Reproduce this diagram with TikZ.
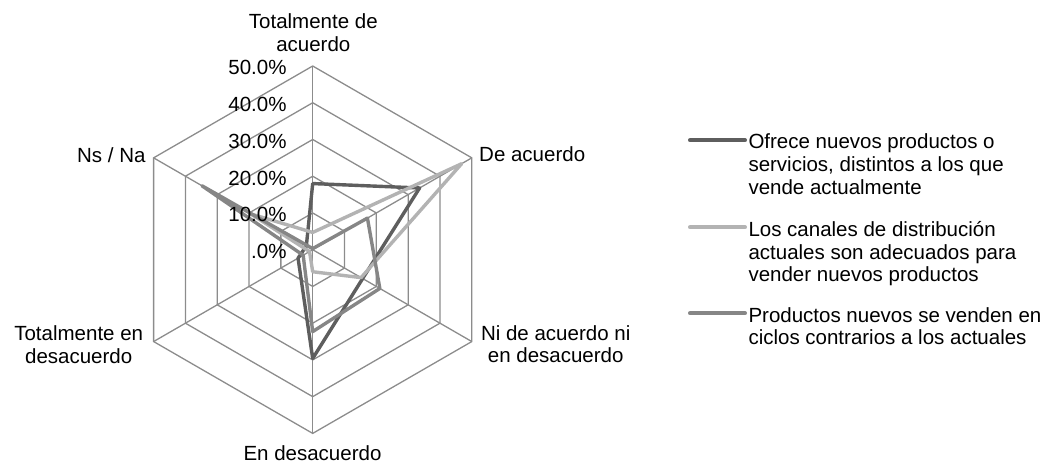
\documentclass[tikz,border=0pt]{standalone}
\usepackage{fontspec}
\setmainfont{Liberation Sans}
\definecolor{gridc}{HTML}{8C8C8C}
\definecolor{sdark}{HTML}{5E5E5E}
\definecolor{slight}{HTML}{B3B3B3}
\definecolor{smed}{HTML}{868686}
\tikzset{
  gridline/.style={gridc, line width=1.3pt},
  series/.style={line width=3.4pt, line join=round},
  lbl/.style={font=\fontsize{20.5}{22.6}\selectfont, inner sep=0pt},
  legline/.style={line width=4pt, line cap=round},
}
\newcommand{\rscl}{3.674}
\begin{document}
\begin{tikzpicture}[x=1pt,y=-1pt]
\useasboundingbox (0,0) rectangle (1058,463);
\begin{scope}[shift={(312.7,249.7)}, yscale=-1]
  \coordinate (O) at (0,0);
  \foreach \k/\a in {1/90,2/30,3/-30,4/-90,5/-150,6/150}{
    \coordinate (A\k) at (\a:183.7);
  }
  \foreach \r in {36.74,73.48,110.22,146.96,183.7}{
    \draw[gridline] (90:\r)--(30:\r)--(-30:\r)--(-90:\r)--(-150:\r)--(150:\r)--cycle;
  }
  \foreach \k in {1,...,6}{ \draw[gridline] (O)--(A\k); }
  % series 1 (dark)
  \foreach \k/\a/\v in {1/90/18,2/30/33.6,3/-30/15.7,4/-90/29.6,5/-150/4.6,6/150/2.0}{
    \coordinate (D\k) at (\a:{\v*\rscl});
  }
  \draw[series, sdark] (D1)--(D2)--(D3)--(D4)--(D5)--(D6)--cycle;
  % series 2 (light)
  \foreach \k/\a/\v in {1/90/4.7,2/30/46.8,3/-30/15.2,4/-90/6.0,5/-150/1.0,6/150/19.5}{
    \coordinate (L\k) at (\a:{\v*\rscl});
  }
  \draw[series, slight] (L1)--(L2)--(L3)--(L4)--(L5)--(L6)--cycle;
  % series 3 (medium)
  \foreach \k/\a/\v in {1/90/0.3,2/30/17.2,3/-30/21.1,4/-90/22.3,5/-150/3.0,6/150/34.8}{
    \coordinate (M\k) at (\a:{\v*\rscl});
  }
  \draw[series, smed] (M1)--(M2)--(M3)--(M4)--(M5)--(M6)--cycle;
\end{scope}
% value labels
\foreach \k/\t in {0/.0\%,1/10.0\%,2/20.0\%,3/30.0\%,4/40.0\%,5/50.0\%}{
  \node[lbl, anchor=base east] (val\k) at (286.7,{249.7-\k*36.74+8.8}) {\t};
}
% category labels
\node[lbl, anchor=base] (c1a) at (313.3,28.3) {Totalmente de};
\node[lbl, anchor=base] (c1b) at (313.3,51.0) {acuerdo};
\node[lbl, anchor=base west] (c2) at (479,161.7) {De acuerdo};
\node[lbl, anchor=base] (c3a) at (555.7,340) {Ni de acuerdo ni};
\node[lbl, anchor=base] (c3b) at (555.7,362.7) {en desacuerdo};
\node[lbl, anchor=base] (c4) at (312.5,460.2) {En desacuerdo};
\node[lbl, anchor=base] (c5a) at (78.7,340) {Totalmente en};
\node[lbl, anchor=base] (c5b) at (78.7,363) {desacuerdo};
\node[lbl, anchor=base east] (c6) at (145.7,162.3) {Ns / Na};
% legend
\coordinate (k1a) at (690,140.3); \coordinate (k1b) at (745,140.3);
\coordinate (k2a) at (690,227.3); \coordinate (k2b) at (745,227.3);
\coordinate (k3a) at (690,313.3); \coordinate (k3b) at (745,313.3);
\draw[legline, sdark] (k1a)--(k1b);
\draw[legline, slight] (k2a)--(k2b);
\draw[legline, smed] (k3a)--(k3b);
\node[lbl, anchor=base west] (t1a) at (748.3,148.6) {Ofrece nuevos productos o};
\node[lbl, anchor=base west] (t1b) at (748.3,171.4) {servicios, distintos a los que};
\node[lbl, anchor=base west] (t1c) at (748.3,194.2) {vende actualmente};
\node[lbl, anchor=base west] (t2a) at (748.3,236.7) {Los canales de distribución};
\node[lbl, anchor=base west] (t2b) at (748.3,259.3) {actuales son adecuados para};
\node[lbl, anchor=base west] (t2c) at (748.3,281.7) {vender nuevos productos};
\node[lbl, anchor=base west] (t3a) at (748.3,322.3) {Productos nuevos se venden en};
\node[lbl, anchor=base west] (t3b) at (748.3,344.9) {ciclos contrarios a los actuales};
\end{tikzpicture}
\end{document}
